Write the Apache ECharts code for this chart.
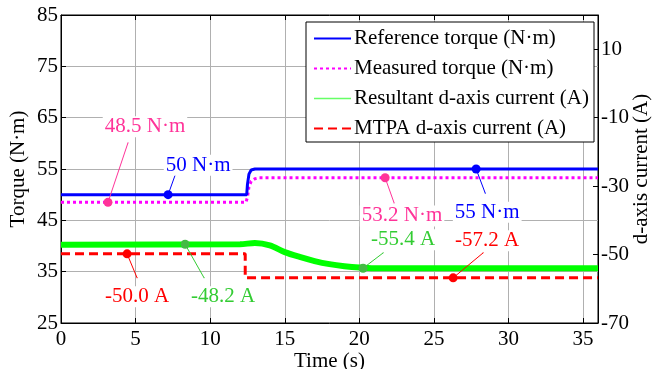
<!DOCTYPE html>
<html>
<head>
<meta charset="utf-8">
<script src="https://cdn.jsdelivr.net/npm/echarts@6/dist/echarts.min.js"></script>
<style>
  html, body { margin: 0; padding: 0; background: #fff; }
  #chart { width: 652px; height: 369px; }
</style>
</head>
<body>
<div id="chart"></div>
<script>
// time axis (s) and series
const refTime = [0, 12.45, 12.5, 12.6, 12.75, 13.0, 36];
const refTorque = [50, 50, 52, 54, 54.8, 55, 55];

const measTime = [0, 12.4, 12.5, 12.6, 12.75, 13.0, 13.3, 36];
const measTorque = [48.5, 48.5, 49.5, 51.5, 52.6, 53.1, 53.3, 53.3];

const idTime = [0, 12.0, 13.0, 14.0, 15, 16, 17, 18, 19, 20, 21, 36];
const idResultant = [-47.1, -47.0, -46.6, -47.3, -49.3, -50.7, -51.9, -52.8, -53.4, -53.8, -54.0, -54.0];

const mtpaTime = [0, 12.35, 12.35, 36];
const mtpaCurrent = [-49.8, -49.8, -56.8, -56.8];

const seriesNames = [
  'Reference torque (N·m)',
  'Measured torque (N·m)',
  'Resultant d-axis current (A)',
  'MTPA d-axis current (A)'
];

// annotations: text, axis, marker point, leader end point
const noteText = ['48.5 N·m', '50 N·m', '53.2 N·m', '55 N·m', '-55.4 A', '-57.2 A', '-50.0 A', '-48.2 A'];
const noteAxis = [0, 0, 0, 0, 1, 1, 1, 1];
const noteDot = [[3.15, 48.5], [7.18, 50], [21.73, 53.3], [27.83, 55], [20.25, -54.0], [26.29, -56.8], [4.43, -49.8], [8.32, -47.0]];
const noteEnd = [[4.49, 60.1], [7.65, 53.8], [22.33, 48.4], [28.44, 50.3], [21.6, -49.5], [28.3, -49.5], [5.1, -56.8], [9.59, -56.8]];

const zip = (xs, ys) => xs.map((x, i) => [x, ys[i]]);

const FONT = "'Liberation Serif', 'Times New Roman', serif";
const FS = 21;

const noteColor = ['#ff3399', '#0000ff', '#ff3399', '#0000ff', '#33cc33', '#ff0000', '#ff0000', '#33cc33'];
const noteDotColor = ['#ff3399', '#0000ff', '#ff3399', '#0000ff', '#44bb44', '#ff0000', '#ff0000', '#44bb44'];
const noteOffset = [[17, -16], [23, -10], [8, 13], [2, 19], [20, -13], [4, -12], [0, 19], [19, 19]];

const chart = echarts.init(document.getElementById('chart'), null, { renderer: 'canvas' });

const noteSeries = noteText.map((txt, i) => ({
  type: 'line',
  yAxisIndex: noteAxis[i],
  z: 6,
  silent: true,
  animation: false,
  showSymbol: true,
  showAllSymbol: true,
  lineStyle: { color: noteColor[i], width: 1 },
  itemStyle: { color: noteDotColor[i] },
  data: [
    { value: noteDot[i], symbol: 'circle', symbolSize: 9 },
    {
      value: noteEnd[i], symbol: 'circle', symbolSize: 1,
      label: {
        show: true,
        formatter: txt,
        position: 'inside',
        offset: noteOffset[i],
        color: noteColor[i],
        fontFamily: FONT,
        fontSize: FS,
        backgroundColor: '#fff',
        padding: [0, 2]
      }
    }
  ]
}));

chart.setOption({
  animation: false,
  backgroundColor: '#fff',
  grid: {
    left: 61, right: 54, top: 15, bottom: 46,
    outerBoundsMode: 'none',
    containLabel: false,
    show: true, borderColor: '#000', borderWidth: 1, backgroundColor: '#fff'
  },
  legend: {
    orient: 'vertical',
    left: 306, top: 22,
    padding: [6, 5, 3, 7],
    itemWidth: 37, itemHeight: 14, itemGap: 9,
    borderColor: '#000', borderWidth: 1, backgroundColor: '#fff',
    itemStyle: { opacity: 0 },
    textStyle: { fontFamily: FONT, fontSize: FS, color: '#000', lineHeight: 20, padding: [0, 0, 0, -2] },
    data: [
      { name: seriesNames[0] },
      { name: seriesNames[1] },
      { name: seriesNames[2], lineStyle: { width: 1.5, color: '#66ff66' } },
      { name: seriesNames[3] }
    ]
  },
  xAxis: [
    {
      type: 'value', min: 0, max: 36, interval: 5,
      name: 'Time (s)', nameLocation: 'middle', nameGap: 28, nameMoveOverlap: false,
      nameTextStyle: { fontFamily: FONT, fontSize: FS, color: '#000' },
      axisLine: { onZero: false, lineStyle: { color: '#000', width: 1 } },
      axisTick: { inside: true, length: 5, lineStyle: { color: '#000' } },
      axisLabel: { fontFamily: FONT, fontSize: FS, color: '#000', margin: 6, showMaxLabel: false },
      splitLine: { show: true, lineStyle: { color: '#b0b0b0', width: 1 } }
    },
    {
      // mirrored box ticks along the top edge
      type: 'value', min: 0, max: 36, interval: 5, position: 'top',
      axisLine: { onZero: false, lineStyle: { color: '#000', width: 1 } },
      axisTick: { inside: true, length: 5, lineStyle: { color: '#000' } },
      axisLabel: { show: false },
      splitLine: { show: false }
    }
  ],
  yAxis: [
    {
      type: 'value', min: 25, max: 85, interval: 10, position: 'left',
      name: 'Torque (N·m)', nameLocation: 'middle', nameGap: 32, nameMoveOverlap: false,
      nameTextStyle: { fontFamily: FONT, fontSize: FS, color: '#000' },
      axisLine: { show: true, onZero: false, lineStyle: { color: '#000', width: 1 } },
      axisTick: { show: true, inside: true, length: 5, lineStyle: { color: '#000' } },
      axisLabel: { fontFamily: FONT, fontSize: FS, color: '#000', margin: 3 },
      splitLine: { show: true, lineStyle: { color: '#b0b0b0', width: 1 } }
    },
    {
      type: 'value', min: -70, max: 20, interval: 20, position: 'right',
      name: 'd-axis current (A)', nameLocation: 'middle', nameGap: 33, nameRotate: 90, nameMoveOverlap: false,
      nameTextStyle: { fontFamily: FONT, fontSize: FS, color: '#000' },
      axisLine: { show: true, onZero: false, lineStyle: { color: '#000', width: 1 } },
      axisTick: { show: true, inside: true, length: 5, lineStyle: { color: '#000' } },
      axisLabel: { fontFamily: FONT, fontSize: FS, color: '#000', margin: 3, showMaxLabel: false },
      splitLine: { show: false }
    }
  ],
  series: [
    {
      name: seriesNames[2], type: 'line', yAxisIndex: 1, smooth: 0.3,
      showSymbol: false, symbol: 'none', z: 2,
      lineStyle: { color: '#00ff00', width: 6 },
      itemStyle: { color: '#00ff00' },
      data: zip(idTime, idResultant)
    },
    {
      name: seriesNames[3], type: 'line', yAxisIndex: 1,
      showSymbol: false, symbol: 'none', z: 3,
      lineStyle: { color: '#ff0000', width: 3, type: [9, 5] },
      itemStyle: { color: '#ff0000' },
      data: zip(mtpaTime, mtpaCurrent)
    },
    {
      name: seriesNames[1], type: 'line', yAxisIndex: 0,
      showSymbol: false, symbol: 'none', z: 3,
      lineStyle: { color: '#ff00ff', width: 3, type: [3, 3] },
      itemStyle: { color: '#ff00ff' },
      data: zip(measTime, measTorque)
    },
    {
      name: seriesNames[0], type: 'line', yAxisIndex: 0,
      showSymbol: false, symbol: 'none', z: 4,
      lineStyle: { color: '#0000ff', width: 3 },
      itemStyle: { color: '#0000ff' },
      data: zip(refTime, refTorque)
    },
    ...noteSeries
  ]
});
</script>
</body>
</html>
